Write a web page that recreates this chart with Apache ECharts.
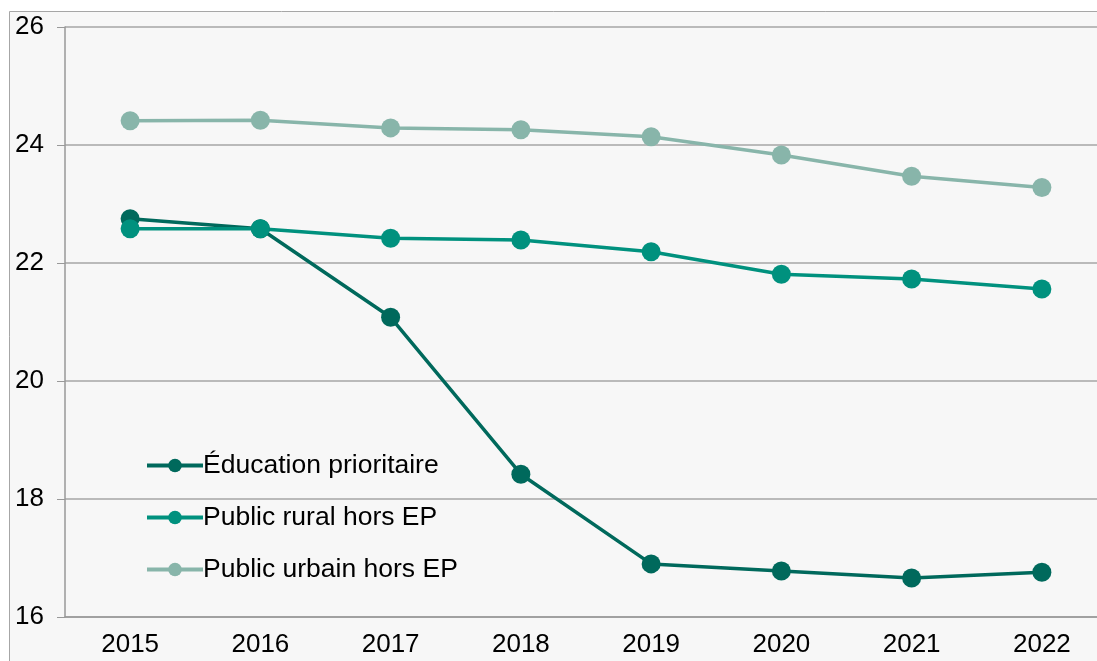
<!DOCTYPE html>
<html>
<head>
<meta charset="utf-8">
<script src="https://cdn.jsdelivr.net/npm/echarts@6/dist/echarts.min.js"></script>
<style>
  html, body { margin: 0; padding: 0; background: #fff; }
  #chart { width: 1097px; height: 661px; }
</style>
</head>
<body>
<div id="chart"></div>
<script>
// données
const years = ['2015', '2016', '2017', '2018', '2019', '2020', '2021', '2022']
const educationPrioritaire = [22.75, 22.58, 21.08, 18.42, 16.90, 16.78, 16.66, 16.76]
const publicRural = [22.58, 22.58, 22.42, 22.39, 22.19, 21.81, 21.73, 21.56]
const publicUrbain = [24.41, 24.42, 24.29, 24.26, 24.14, 23.83, 23.47, 23.28]

const colors = ['#00695c', '#00917e', '#88b5aa']
const font = 'Liberation Sans, Arial, sans-serif'

const chart = echarts.init(document.getElementById('chart'))

const makeSeries = (name, data, color) => ({
  name: name,
  type: 'line',
  data: data,
  symbol: 'circle',
  symbolSize: 19,
  itemStyle: { color: color },
  lineStyle: { color: color, width: 3.5 },
  emphasis: { disabled: true }
})

chart.setOption({
  backgroundColor: '#fff',
  animation: false,
  color: colors,
  graphic: [{
    type: 'rect',
    z: -10,
    shape: { x: 9.5, y: 11.5, width: 1200, height: 1000 },
    style: { fill: '#f7f7f7', stroke: '#a6a6a6', lineWidth: 1 }
  }],
  grid: {
    left: 65,
    top: 27,
    width: 1042,
    bottom: 44,
    outerBoundsMode: 'none',
    containLabel: false
  },
  legend: {
    orient: 'vertical',
    left: 140,
    top: 447,
    itemWidth: 56,
    itemHeight: 17,
    itemGap: 25,
    lineStyle: { width: 4 },
    textStyle: { fontFamily: font, fontSize: 26.5, color: '#000', padding: [0, 0, 0, -5] },
    data: ['Éducation prioritaire', 'Public rural hors EP', 'Public urbain hors EP']
  },
  xAxis: {
    type: 'category',
    data: years,
    boundaryGap: true,
    axisLine: { lineStyle: { color: '#999', width: 1.5 } },
    axisTick: { length: 9, lineStyle: { color: '#999' } },
    axisLabel: { fontFamily: font, fontSize: 26, color: '#000', margin: 15 }
  },
  yAxis: {
    type: 'value',
    min: 16,
    max: 26,
    interval: 2,
    axisLine: { show: true, lineStyle: { color: '#999', width: 1.5 } },
    axisTick: { show: true, length: 8, lineStyle: { color: '#999' } },
    splitLine: { lineStyle: { color: '#a6a6a6', width: 1.5 } },
    axisLabel: { fontFamily: font, fontSize: 26, color: '#000', margin: 21 }
  },
  series: [
    makeSeries('Éducation prioritaire', educationPrioritaire, colors[0]),
    makeSeries('Public rural hors EP', publicRural, colors[1]),
    makeSeries('Public urbain hors EP', publicUrbain, colors[2])
  ]
})
</script>
</body>
</html>
